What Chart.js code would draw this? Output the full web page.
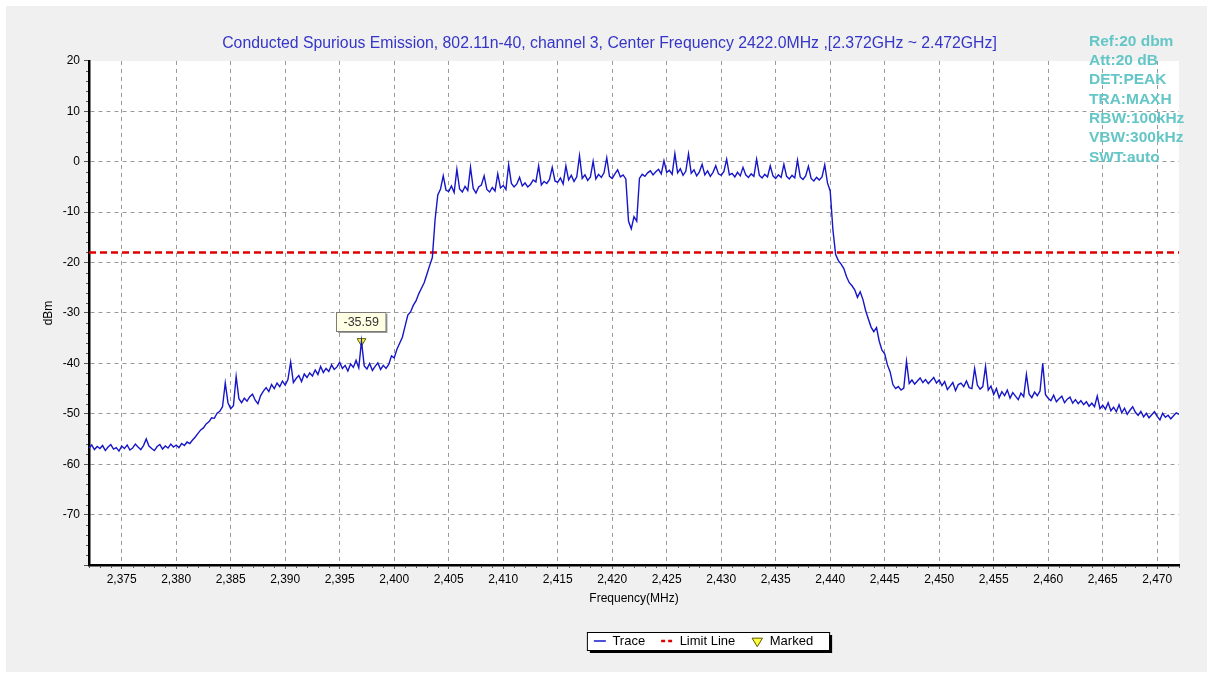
<!DOCTYPE html>
<html>
<head>
<meta charset="utf-8">
<script src="https://cdn.jsdelivr.net/npm/chart.js@4.4.1/dist/chart.umd.min.js"></script>
<style>
  html, body { margin: 0; padding: 0; background: #ffffff; }
  #painel { position: absolute; left: 6px; top: 6px; width: 1201px; height: 666px; background: #f0f0f0; }
</style>
</head>
<body>
<div id="painel"><canvas id="grafico"></canvas></div>
<script>
// Varredura do analisador: 2372 a 2472 MHz, passo de 0,25 MHz
const freqInicial = 2372;
const freqFinal = 2472;
const passoMHz = 0.25;

// Traço MAXH em dBm (um valor por ponto da varredura, 2 MHz por linha)
const tracoDbm = [
    -56.8, -56.2, -57.1, -56.5, -56.9, -56.3, -57.3, -56.6,
    -56.1, -57.0, -56.7, -57.4, -56.4, -56.9, -56.2, -57.2,
    -56.8, -56.0, -56.6, -57.1, -56.3, -55.0, -56.4, -56.9,
    -57.3, -56.5, -56.1, -57.0, -56.4, -56.8, -56.0, -56.6,
    -56.2, -56.7, -55.9, -56.3, -55.6, -55.9, -55.2, -54.6,
    -53.9, -53.2, -52.8, -52.0, -51.6, -50.8, -50.9, -49.9,
    -49.5, -48.6, -43.9, -47.8, -49.0, -48.4, -42.6, -47.0,
    -47.8, -46.9, -47.5, -46.6, -46.1, -47.3, -48.0, -46.4,
    -45.5, -44.8, -45.6, -44.2, -45.0, -43.9, -44.6, -43.5,
    -44.3, -43.2, -39.7, -43.8, -43.0, -42.4, -43.6, -42.1,
    -42.8, -41.9, -42.5, -41.3, -42.2, -40.6, -41.8, -41.0,
    -41.6, -40.3, -41.2, -40.7, -39.8, -41.0, -40.4, -41.5,
    -40.1, -40.8, -39.4, -40.9, -35.59, -40.5, -41.1, -40.0,
    -41.4, -40.6, -39.9, -41.2, -40.4, -41.0, -40.2, -38.5,
    -38.9, -37.2, -36.0, -34.8, -32.6, -30.4, -29.8, -28.5,
    -27.6, -26.2, -25.1, -24.0, -22.3, -20.6, -19.0, -11.5,
    -6.6, -5.4, -2.8, -5.6, -5.9, -4.8, -6.1, -1.5,
    -5.4, -6.0, -4.9, -5.7, -1.1, -5.3, -6.2, -5.0,
    -4.6, -2.8, -5.5, -6.0, -5.1, -5.8, -2.4, -5.2,
    -4.7, -5.5, -0.6, -4.3, -5.0, -4.4, -3.1, -4.8,
    -4.2, -5.0, -4.5, -3.6, -4.0, -0.8, -4.6, -3.9,
    -4.3, -3.5, -1.1, -3.8, -4.1, -3.2, -4.4, -0.8,
    -3.6, -2.7, -3.9, -3.0, 1.2, -3.3, -2.6, -3.7,
    -3.0, 0.1, -3.4, -2.5, -3.1, -2.2, 0.8, -2.9,
    -3.3, -2.4, -1.6, -3.0, -2.6, -3.4, -11.8, -13.3,
    -10.9, -11.8, -3.3, -2.5, -2.9, -2.2, -1.8, -2.6,
    -2.0, -1.5, -2.4, 0.2, -2.1, -1.7, -2.5, 1.6,
    -2.2, -1.4, -2.7, -1.9, 1.6, -2.3, -1.6, -2.8,
    -2.0, -0.5, -2.6, -1.8, -2.9, -2.1, -0.8, -2.4,
    -2.7, -1.9, 0.5, -2.6, -2.3, -3.0, -2.1, -2.8,
    -1.1, -2.6, -3.1, -2.4, -2.9, 0.5, -2.7, -3.2,
    -2.5, -3.0, -0.8, -2.8, -3.3, -2.6, -3.1, -0.5,
    -2.9, -3.4, -2.7, -3.2, 0.3, -3.0, -3.5, -2.8,
    -0.9, -3.3, -3.8, -3.1, -3.6, -3.0, -0.6, -4.2,
    -5.8, -13.5, -18.4, -19.6, -20.3, -21.2, -22.8, -24.0,
    -24.6, -25.4, -26.9, -25.8, -27.3, -29.5, -31.2, -32.8,
    -33.7, -32.9, -35.6, -37.4, -38.1, -40.3, -41.7, -44.2,
    -45.0, -44.6, -45.3, -44.9, -39.6, -44.0, -43.3, -44.1,
    -43.5, -42.9, -43.8, -43.2, -44.0, -43.4, -42.8, -43.9,
    -43.3, -44.4, -43.6, -45.2, -44.5, -43.8, -45.4, -44.2,
    -43.9, -44.6, -43.5, -44.8, -45.0, -41.0, -44.3, -45.1,
    -44.6, -40.6, -45.3, -44.5, -46.2, -45.0, -46.8, -45.6,
    -46.4, -45.3, -46.9, -45.8, -46.5, -47.2, -45.9, -46.6,
    -42.2, -46.1, -46.8, -45.7, -46.4, -45.5, -40.0, -46.2,
    -46.9, -47.4, -46.3, -47.6, -47.0, -46.5, -47.8, -47.1,
    -46.7, -47.9, -47.2, -48.0, -47.4, -48.2, -47.6, -48.5,
    -47.9, -48.6, -46.5, -49.0, -48.3, -49.1, -47.8, -49.4,
    -48.7, -49.6, -48.2, -49.8, -48.9, -50.1, -49.3, -48.6,
    -49.7, -50.3, -49.5, -50.6, -49.9, -50.8, -50.2, -49.6,
    -50.5, -51.2, -49.9, -50.7, -50.3, -51.0, -50.4, -49.8,
    -50.1
];

// Linha de limite e marcador
const limiteDbm = -18;
const marcaFreq = 2397;
const marcaDbm = -35.59;

// Eixos
const eixoYMin = -80;
const eixoYMax = 20;
const eixoYPasso = 10;
const eixoXPasso = 5;

// Textos
const titulo = 'Conducted Spurious Emission, 802.11n-40, channel 3, Center Frequency 2422.0MHz ,[2.372GHz ~ 2.472GHz]';
const infoAnalisador = ['Ref:20 dbm', 'Att:20 dB', 'DET:PEAK', 'TRA:MAXH', 'RBW:100kHz', 'VBW:300kHz', 'SWT:auto'];

const corTraco = '#1616c8';
const corLimite = '#e00000';
const fonte = "'Liberation Sans', Arial, sans-serif";

const pontosTraco = tracoDbm.map((v, i) => ({ x: freqInicial + i * passoMHz, y: v }));

Chart.defaults.font.family = fonte;
Chart.defaults.font.size = 12;
Chart.defaults.color = '#000';

// Fundo branco da área do gráfico e moldura da legenda
const fundoPlugin = {
    id: 'fundo',
    beforeDraw(chart) {
        const { ctx, chartArea: a } = chart;
        ctx.save();
        ctx.fillStyle = '#ffffff';
        ctx.fillRect(a.left, a.top, a.right - a.left, a.bottom - a.top);

        const caixas = chart.legend.legendHitBoxes;
        if (caixas && caixas.length) {
            const esq = Math.min(...caixas.map(c => c.left)) - 7;
            const dir = Math.max(...caixas.map(c => c.left + c.width)) + 16;
            const topo = Math.round(caixas[0].top - 3);
            const alt = 18;
            ctx.fillStyle = '#000';
            ctx.fillRect(esq + 3, topo + 3, dir - esq, alt);
            ctx.fillStyle = '#fff';
            ctx.fillRect(esq, topo, dir - esq, alt);
            ctx.strokeStyle = '#000';
            ctx.lineWidth = 1;
            ctx.strokeRect(esq + 0.5, topo + 0.5, dir - esq, alt);
        }
        ctx.restore();
    }
};

// Desloca título e legenda para a direita, como no original
const posicaoPlugin = {
    id: 'posicao',
    afterLayout(chart) {
        chart.legend.left += 111;
        chart.legend.right += 111;
        chart.titleBlock.left += 17;
        chart.titleBlock.right += 17;
    }
};

// Caixa com o valor do marcador
const marcadorPlugin = {
    id: 'marcador',
    afterDatasetsDraw(chart) {
        const pt = chart.getDatasetMeta(2).data[0];
        if (!pt) return;
        const { ctx } = chart;
        const txt = marcaDbm.toFixed(2);
        ctx.save();
        ctx.font = '12.5px ' + fonte;
        const w = ctx.measureText(txt).width + 14;
        const h = 19;
        const x0 = Math.round(pt.x - w / 2) - 0.5;
        const y0 = Math.round(pt.y - 29) + 0.5;
        ctx.fillStyle = '#9a9a9a';
        ctx.fillRect(x0 + 1.5, y0 + 1.5, w, h);
        ctx.fillStyle = '#ffffe4';
        ctx.fillRect(x0, y0, w, h);
        ctx.strokeStyle = '#7a7a7a';
        ctx.lineWidth = 1;
        ctx.strokeRect(x0, y0, w, h);
        ctx.fillStyle = '#333';
        ctx.textAlign = 'center';
        ctx.textBaseline = 'middle';
        ctx.fillText(txt, x0 + w / 2, y0 + h / 2 + 0.5);
        ctx.restore();
    }
};

// Marcas menores dos eixos e parâmetros do analisador
const extrasPlugin = {
    id: 'extras',
    afterDraw(chart) {
        const { ctx, chartArea: a, scales } = chart;
        ctx.save();
        ctx.strokeStyle = '#555';
        ctx.lineWidth = 1;
        ctx.beginPath();
        for (let f = freqInicial; f <= freqFinal; f += 1) {
            if (f % eixoXPasso === 0) continue;
            const px = Math.round(scales.x.getPixelForValue(f)) + 0.5;
            ctx.moveTo(px, a.bottom + 1);
            ctx.lineTo(px, a.bottom + 3);
        }
        for (let v = eixoYMin; v <= eixoYMax; v += 2) {
            if (v % eixoYPasso === 0) continue;
            const py = Math.round(scales.y.getPixelForValue(v)) + 0.5;
            ctx.moveTo(a.left - 1, py);
            ctx.lineTo(a.left - 3, py);
        }
        ctx.stroke();

        ctx.font = 'bold 15.5px ' + fonte;
        ctx.fillStyle = 'rgb(100, 198, 198)';
        ctx.textBaseline = 'middle';
        ctx.textAlign = 'left';
        infoAnalisador.forEach((linha, i) => {
            ctx.fillText(linha, 1083, 35.5 + i * 19.3);
        });
        ctx.restore();
    }
};

const ctx = document.getElementById('grafico').getContext('2d');
new Chart(ctx, {
    type: 'line',
    data: {
        datasets: [
            {
                label: 'Trace',
                data: pontosTraco,
                borderColor: corTraco,
                borderWidth: 1.4,
                pointRadius: 0,
                tension: 0
            },
            {
                label: 'Limit Line',
                data: [{ x: freqInicial, y: limiteDbm }, { x: freqFinal, y: limiteDbm }],
                borderColor: corLimite,
                borderWidth: 2.5,
                borderDash: [7, 4],
                pointRadius: 0
            },
            {
                label: 'Marked',
                data: [{ x: marcaFreq, y: marcaDbm }],
                showLine: false,
                pointStyle: 'triangle',
                pointRotation: 180,
                pointRadius: 5,
                pointBackgroundColor: '#ffff3c',
                pointBorderColor: '#5a5a00',
                pointBorderWidth: 1
            }
        ]
    },
    options: {
        responsive: true,
        maintainAspectRatio: false,
        animation: false,
        layout: { padding: { left: 0, right: 28, top: 0, bottom: 14.5 } },
        plugins: {
            title: {
                display: true,
                text: titulo,
                color: '#3535c8',
                font: { size: 15.8, weight: 'normal' },
                padding: { top: 28, bottom: 8 }
            },
            legend: {
                position: 'bottom',
                labels: {
                    usePointStyle: true,
                    pointStyleWidth: 12,
                    boxHeight: 8,
                    padding: 16,
                    color: '#000',
                    font: { size: 13 },
                    generateLabels: () => [
                        { text: 'Trace', pointStyle: 'line', strokeStyle: corTraco, fillStyle: corTraco, lineWidth: 1.5, lineDash: [], rotation: 0, datasetIndex: 0, hidden: false },
                        { text: 'Limit Line', pointStyle: 'line', strokeStyle: corLimite, fillStyle: corLimite, lineWidth: 2.5, lineDash: [4, 3], rotation: 0, datasetIndex: 1, hidden: false },
                        { text: 'Marked', pointStyle: 'triangle', strokeStyle: '#5a5a00', fillStyle: '#ffff3c', lineWidth: 1, lineDash: [], rotation: 180, datasetIndex: 2, hidden: false }
                    ]
                }
            },
            tooltip: { enabled: false }
        },
        scales: {
            x: {
                type: 'linear',
                min: freqInicial,
                max: freqFinal,
                afterBuildTicks: s => {
                    const marcas = [];
                    for (let v = Math.ceil(freqInicial / eixoXPasso) * eixoXPasso; v < freqFinal; v += eixoXPasso) {
                        marcas.push({ value: v });
                    }
                    s.ticks = marcas;
                },
                ticks: {
                    autoSkip: false,
                    maxRotation: 0,
                    padding: 3,
                    callback: v => v.toLocaleString('en-US')
                },
                grid: { color: '#9a9a9a', tickColor: '#555', tickLength: 4 },
                border: { color: '#000', width: 2.5, dash: [4, 4] },
                title: { display: true, text: 'Frequency(MHz)', padding: { top: 0, bottom: 12.3 } },
                afterFit: s => { s.height = 53.5; }
            },
            y: {
                min: eixoYMin,
                max: eixoYMax,
                ticks: {
                    stepSize: eixoYPasso,
                    padding: 4,
                    callback: v => (v === eixoYMin ? '' : v)
                },
                grid: {
                    color: c => (c.tick && (c.tick.value === eixoYMax || c.tick.value === eixoYMin)) ? 'rgba(0,0,0,0)' : '#9a9a9a',
                    tickColor: '#555',
                    tickLength: 5
                },
                border: { color: '#000', width: 2.5, dash: [4, 4] },
                title: { display: true, text: 'dBm', padding: { top: 35, bottom: 0 } },
                afterFit: s => { s.width = 83; }
            }
        }
    },
    plugins: [fundoPlugin, posicaoPlugin, marcadorPlugin, extrasPlugin]
});
</script>
</body>
</html>
